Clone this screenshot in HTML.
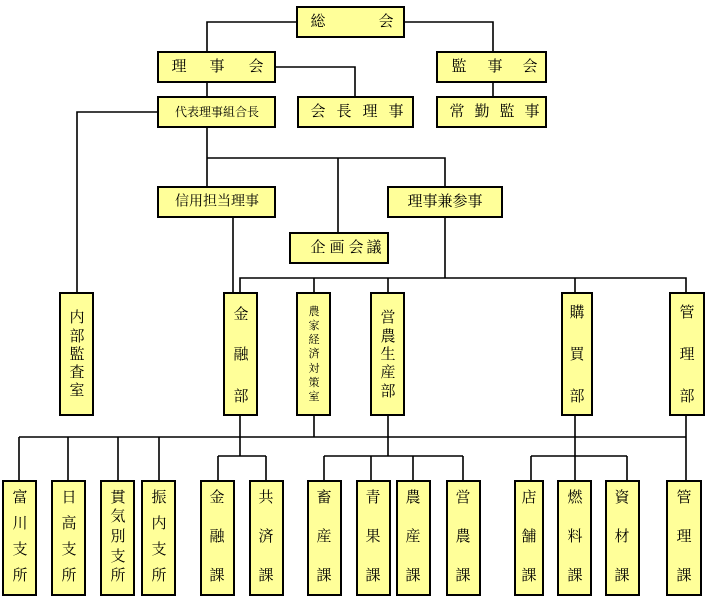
<!DOCTYPE html>
<html><head><meta charset="utf-8"><style>
html,body{margin:0;padding:0;background:#fff;}
svg{display:block;}
text{font-family:"Liberation Serif","Noto Serif CJK SC","Noto Sans CJK JP",serif;fill:#000;text-anchor:middle;dominant-baseline:central;}
.b{fill:#ffff99;stroke:#000;stroke-width:2;}
.s{fill:#888;}
.l{fill:none;stroke:#000;stroke-width:1.6;}
</style></head><body>
<svg width="708" height="601" viewBox="0 0 708 601" xmlns="http://www.w3.org/2000/svg">
<!-- connectors -->
<path class="l" d="M297 22H207V52M404 22H493V52M275 67H355V97M493 82V97M207 82V97M158 112H77V293M207 127V158H445V187M338 158V233M207 158V187M233 217V293M445 217V278H240V293M240 278H686V293M314 278V293M388 278V293M575 278V293
M19 437H686M19 437V481M68 437V481M118 437V481M159 437V481M314 415V437M686 415V481
M240 415V456M218 456H266M218 456V481M266 456V481
M388 415V456M324 456H463M324 456V481M371 456V481M413 456V481M463 456V481
M575 415V481M531 456H627M531 456V481M627 456V481"/>
<!-- boxes -->
<g>
<rect class="b" x="297" y="7" width="107" height="30"/>
<rect class="b" x="158" y="52" width="117" height="30"/>
<rect class="b" x="437" y="52" width="109" height="30"/>
<rect class="b" x="158" y="97" width="117" height="30"/>
<rect class="b" x="298" y="97" width="115" height="30"/>
<rect class="b" x="437" y="97" width="109" height="30"/>
<rect class="b" x="158" y="187" width="117" height="30"/>
<rect class="b" x="388" y="187" width="114" height="30"/>
<rect class="b" x="290" y="233" width="98" height="30"/>
<rect class="b" x="60" y="293" width="33" height="122"/>
<rect class="b" x="224" y="293" width="33" height="122"/>
<rect class="b" x="297" y="293" width="33" height="122"/>
<rect class="b" x="371" y="293" width="33" height="122"/>
<rect class="b" x="562" y="293" width="30" height="122"/>
<rect class="b" x="670" y="293" width="34" height="122"/>
<rect class="b" x="3" y="481" width="33" height="114"/>
<rect class="b" x="52" y="481" width="33" height="114"/>
<rect class="b" x="101" y="481" width="33" height="114"/>
<rect class="b" x="142" y="481" width="33" height="114"/>
<rect class="b" x="201" y="481" width="33" height="114"/>
<rect class="b" x="250" y="481" width="33" height="114"/>
<rect class="b" x="308" y="481" width="33" height="114"/>
<rect class="b" x="357" y="481" width="33" height="114"/>
<rect class="b" x="397" y="481" width="33" height="114"/>
<rect class="b" x="447" y="481" width="33" height="114"/>
<rect class="b" x="515" y="481" width="28" height="114"/>
<rect class="b" x="558" y="481" width="33" height="114"/>
<rect class="b" x="606" y="481" width="33" height="114"/>
<rect class="b" x="667" y="481" width="34" height="114"/>
</g>
<!-- horizontal labels -->
<g font-size="15">
<text x="318" y="22">総</text><text x="386" y="22">会</text>
<text x="179" y="67">理</text><text x="217" y="67">事</text><text x="256" y="67">会</text>
<text x="459" y="67">監</text><text x="495" y="67">事</text><text x="530" y="67">会</text>
<text x="318" y="112">会</text><text x="344" y="112">長</text><text x="370" y="112">理</text><text x="396" y="112">事</text>
<text x="457" y="112">常</text><text x="482" y="112">勤</text><text x="507" y="112">監</text><text x="532" y="112">事</text>
<text x="318" y="248">企</text><text x="337" y="248">画</text><text x="356" y="248">会</text><text x="374" y="248">議</text>
<text x="445" y="202" font-size="15">理事兼参事</text>
<text x="217" y="202" font-size="14">信用担当理事</text>
<text x="217" y="112" font-size="12">代表理事組合長</text>
</g>
<!-- vertical labels -->
<g font-size="15">
<text x="77" y="318">内</text><text x="77" y="337">部</text><text x="77" y="355">監</text><text x="77" y="373">査</text><text x="77" y="391">室</text>
<text x="241" y="315">金</text><text x="241" y="355">融</text><text x="241" y="397">部</text>
<g font-size="11"><text x="314" y="312">農</text><text x="314" y="326">家</text><text x="314" y="340">経</text><text x="314" y="354">済</text><text x="314" y="369">対</text><text x="314" y="383">策</text><text x="314" y="397">室</text></g>
<text x="388" y="318">営</text><text x="388" y="337">農</text><text x="388" y="355">生</text><text x="388" y="373">産</text><text x="388" y="392">部</text>
<text x="577" y="313">購</text><text x="577" y="355">買</text><text x="577" y="397">部</text>
<text x="687" y="313">管</text><text x="687" y="355">理</text><text x="687" y="397">部</text>
</g>
<g font-size="15">
<text x="20" y="498">富</text><text x="20" y="524">川</text><text x="20" y="550">支</text><text x="20" y="576">所</text>
<text x="69" y="498">日</text><text x="69" y="524">高</text><text x="69" y="550">支</text><text x="69" y="576">所</text>
<text x="118" y="498">貫</text><text x="118" y="517">気</text><text x="118" y="537">別</text><text x="118" y="557">支</text><text x="118" y="576">所</text>
<text x="159" y="498">振</text><text x="159" y="524">内</text><text x="159" y="550">支</text><text x="159" y="576">所</text>
<text x="217" y="498">金</text><text x="217" y="537">融</text><text x="217" y="576">課</text>
<text x="266" y="498">共</text><text x="266" y="537">済</text><text x="266" y="576">課</text>
<text x="324" y="498">畜</text><text x="324" y="537">産</text><text x="324" y="576">課</text>
<text x="373" y="498">青</text><text x="373" y="537">果</text><text x="373" y="576">課</text>
<text x="413" y="498">農</text><text x="413" y="537">産</text><text x="413" y="576">課</text>
<text x="463" y="498">営</text><text x="463" y="537">農</text><text x="463" y="576">課</text>
<text x="529" y="498">店</text><text x="529" y="537">舗</text><text x="529" y="576">課</text>
<text x="575" y="498">燃</text><text x="575" y="537">料</text><text x="575" y="576">課</text>
<text x="622" y="498">資</text><text x="622" y="537">材</text><text x="622" y="576">課</text>
<text x="684" y="498">管</text><text x="684" y="537">理</text><text x="684" y="576">課</text>
</g>
</svg>
</body></html>
